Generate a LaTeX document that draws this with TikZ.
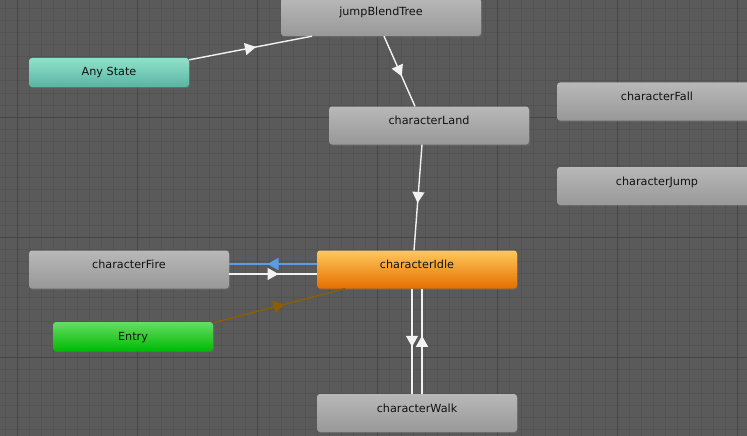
\documentclass[tikz,border=0pt]{standalone}
\usepackage{fontspec}
\setmainfont{DejaVu Sans}
\usetikzlibrary{arrows.meta,decorations.markings,shadows}
\definecolor{bgc}{HTML}{5A5A5A}
\definecolor{minorc}{HTML}{535353}
\definecolor{majorc}{HTML}{464646}
\definecolor{grayT}{HTML}{B8B8B8}
\definecolor{grayB}{HTML}{989898}
\definecolor{orT}{HTML}{FFC85C}
\definecolor{orB}{HTML}{E56E00}
\definecolor{tealT}{HTML}{8FE2C9}
\definecolor{tealB}{HTML}{59B4A4}
\definecolor{grT}{HTML}{66DD66}
\definecolor{grB}{HTML}{00BA00}
\definecolor{wl}{HTML}{F2F2F2}
\definecolor{bluel}{HTML}{5B9CE6}
\definecolor{brownl}{HTML}{8C5E00}
\definecolor{txt}{HTML}{111111}
\tikzset{
  state/.style={rectangle, rounded corners=3pt, inner xsep=0pt, inner ysep=0pt,
    minimum width=200pt, text height=18pt, text depth=20pt, text=txt,
    font=\fontsize{11.2}{13}\selectfont,
    drop shadow={shadow xshift=0.8pt, shadow yshift=-1.2pt, opacity=0.35},
    top color=grayT, bottom color=grayB},
  shortstate/.style={state, minimum width=160pt, text depth=11pt},
  orangestate/.style={top color=orT, bottom color=orB},
  tealstate/.style={top color=tealT, bottom color=tealB},
  greenstate/.style={top color=grT, bottom color=grB},
  conn/.style={line width=1.4pt, draw=wl},
  midarrow/.style={postaction={decorate}, decoration={markings,
    mark=at position 0.5 with {\arrow[xshift=5.5pt]{Triangle[length=11pt,width=12pt]}}}},
}
\begin{document}
\begin{tikzpicture}[x=1pt,y=-1pt]
\useasboundingbox (0,0) rectangle (747,436);
\clip (0,0) rectangle (747,436);
\fill[bgc] (0,0) rectangle (747,436);
% grid
\foreach \x in {5,17,...,749} \draw[minorc, line width=1pt] (\x,0) -- (\x,436);
\foreach \y in {9,21,...,437} \draw[minorc, line width=1pt] (0,\y) -- (747,\y);
\foreach \x in {17,137,...,737} \draw[majorc, line width=1pt] (\x,0) -- (\x,436);
\foreach \y in {117,237,357} \draw[majorc, line width=1pt] (0,\y) -- (747,\y);
% nodes
\node[state] (jbt) at (381,17) {jumpBlendTree};
\node[shortstate, tealstate] (any) at (109,72.5) {Any State};
\node[state] (land) at (429,125.5) {characterLand};
\node[state] (fall) at (657,101.5) {characterFall};
\node[state] (jump) at (657,186) {characterJump};
\node[state, orangestate] (idle) at (417,269.5) {characterIdle};
\node[state] (fire) at (129,269.5) {characterFire};
\node[shortstate, greenstate] (entry) at (133,336.5) {Entry};
\node[state] (walk) at (417,413) {characterWalk};
% connectors
\draw[conn, midarrow, fill=wl] ([yshift=-2pt]any.north east) -- ([xshift=-69pt]jbt.south);
\draw[conn, midarrow, fill=wl] ([xshift=3pt]jbt.south) -- ([xshift=-14pt]land.north);
\draw[conn, midarrow, fill=wl] ([xshift=-7pt]land.south) -- ([xshift=-3pt]idle.north);
\draw[conn, midarrow, draw=bluel, fill=bluel] ([yshift=5.5pt]idle.west) -- ([yshift=5.5pt]fire.east);
\draw[conn, midarrow, fill=wl] ([yshift=-4.5pt]fire.east) -- ([yshift=-4.5pt]idle.west);
\draw[conn, midarrow, draw=brownl, fill=brownl] ([yshift=-1pt]entry.north east) -- ([xshift=-72pt]idle.south);
\draw[conn, midarrow, fill=wl] ([xshift=-5pt]idle.south) -- ([xshift=-5pt]walk.north);
\draw[conn, midarrow, fill=wl] ([xshift=5pt]walk.north) -- ([xshift=5pt]idle.south);
\end{tikzpicture}
\end{document}
